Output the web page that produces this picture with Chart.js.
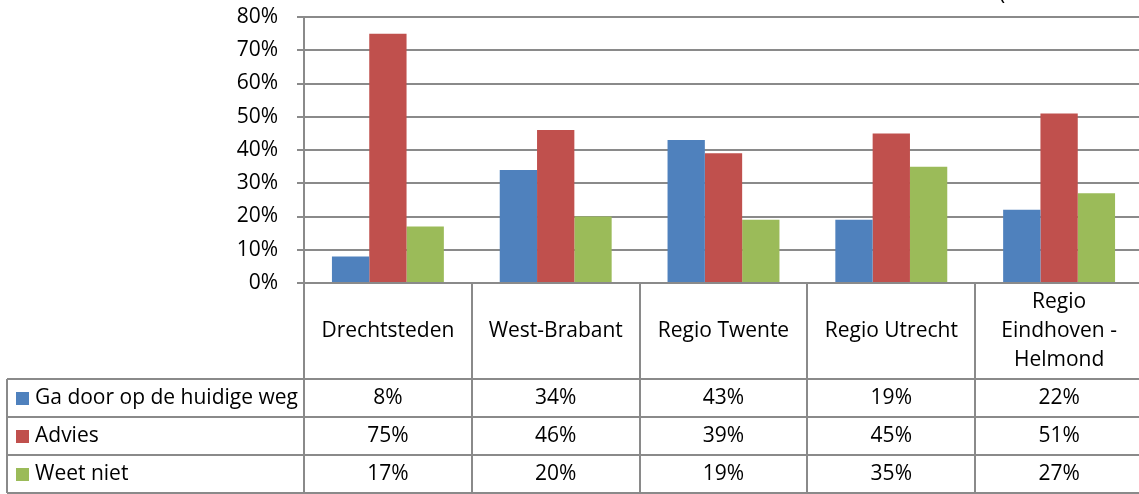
<!DOCTYPE html>
<html>
<head>
<meta charset="utf-8">
<script src="https://cdn.jsdelivr.net/npm/chart.js@4/dist/chart.umd.min.js"></script>
<style>
    html, body { margin: 0; padding: 0; background: #ffffff; overflow: hidden; }
    #wrap { width: 1145px; height: 494px; }
</style>
</head>
<body>
<div id="wrap"><canvas id="regio-chart" width="1145" height="494"></canvas></div>
<script>
const regions = [
    'Drechtsteden',
    'West-Brabant',
    'Regio Twente',
    'Regio Utrecht',
    ['Regio', 'Eindhoven -', 'Helmond']
];

const seriesNames = ['Ga door op de huidige weg', 'Advies', 'Weet niet'];
const seriesColors = ['#4f81bd', '#c0504d', '#9bbb59'];

const gaDoor = [8, 34, 43, 19, 22];
const advies = [75, 46, 39, 45, 51];
const weetNiet = [17, 20, 19, 35, 27];

const yTicks = [0, 10, 20, 30, 40, 50, 60, 70, 80];

const
    gridColor = '#8a8a8a',
    fontFamily = "'Open Sans', 'Noto Sans', sans-serif",
    fontSize = 21,
    headerBottom = 379,
    rowHeight = 38,
    tableLeft = 7;

const seriesValues = [gaDoor, advies, weetNiet];

// data table under the plot, columns lined up with the category scale
const dataTable = {
    id: 'dataTable',
    afterDraw(chart) {
        const { ctx, chartArea, scales: { x } } = chart;
        const colWidth = x.width / regions.length;
        const bottom = headerBottom + rowHeight * 3;

        ctx.save();
        ctx.strokeStyle = gridColor;
        ctx.lineWidth = 2;

        // row lines
        for (let r = 0; r <= 3; r++) {
            const y = Math.min(headerBottom + r * rowHeight, 493);
            ctx.beginPath();
            ctx.moveTo(tableLeft, y);
            ctx.lineTo(chart.width, y);
            ctx.stroke();
        }

        // column lines
        ctx.beginPath();
        ctx.moveTo(tableLeft, headerBottom);
        ctx.lineTo(tableLeft, bottom);
        ctx.stroke();
        for (let i = 0; i <= regions.length; i++) {
            const xPos = Math.round(chartArea.left + i * colWidth);
            ctx.beginPath();
            ctx.moveTo(xPos, chartArea.bottom);
            ctx.lineTo(xPos, bottom);
            ctx.stroke();
        }

        ctx.fillStyle = '#000000';
        ctx.font = fontSize + 'px ' + fontFamily;
        ctx.textAlign = 'center';
        ctx.textBaseline = 'middle';

        // category headers
        const headerMid = (chartArea.bottom + headerBottom) / 2;
        regions.forEach((name, i) => {
            const cx = x.getPixelForValue(i);
            const lines = Array.isArray(name) ? name : [name];
            lines.forEach((line, j) => {
                const cy = headerMid + (j - (lines.length - 1) / 2) * 29;
                ctx.fillText(line, cx, cy);
            });
        });

        // series rows: legend key, name, values
        seriesNames.forEach((name, r) => {
            const cy = headerBottom + r * rowHeight + rowHeight / 2;
            ctx.fillStyle = seriesColors[r];
            ctx.fillRect(16, Math.round(cy - 6.5), 13, 13);
            ctx.fillStyle = '#000000';
            ctx.textAlign = 'left';
            ctx.fillText(name, 35, cy);
            ctx.textAlign = 'center';
            seriesValues[r].forEach((v, i) => {
                ctx.fillText(v + '%', x.getPixelForValue(i), cy);
            });
        });

        // edge of the title that sits above the plot
        ctx.textAlign = 'left';
        ctx.textBaseline = 'alphabetic';
        ctx.fillText('(', 999, 0);

        ctx.restore();
    }
};

const ctx = document.getElementById('regio-chart').getContext('2d');

new Chart(ctx, {
    type: 'bar',
    plugins: [dataTable],
    data: {
        labels: regions,
        datasets: seriesNames.map((name, i) => ({
            label: name,
            data: seriesValues[i],
            backgroundColor: seriesColors[i],
            borderWidth: 0,
            categoryPercentage: 0.667,
            barPercentage: 1
        }))
    },
    options: {
        responsive: false,
        animation: false,
        layout: {
            padding: { left: 0, top: 17, right: 2, bottom: 494 - 283 }
        },
        plugins: {
            legend: { display: false },
            tooltip: { enabled: false }
        },
        scales: {
            x: {
                display: false
            },
            y: {
                min: 0,
                max: 80,
                afterFit(scale) {
                    scale.width = 304;
                    scale.paddingTop = 0;
                    scale.paddingBottom = 0;
                },
                afterBuildTicks(scale) {
                    scale.ticks = yTicks.map(v => ({ value: v }));
                },
                ticks: {
                    padding: 19,
                    color: '#000000',
                    font: { family: fontFamily, size: fontSize },
                    callback: v => v + '%'
                },
                grid: {
                    color: gridColor,
                    lineWidth: 2,
                    tickLength: 7
                },
                border: {
                    color: gridColor,
                    width: 2
                }
            }
        }
    }
});
</script>
</body>
</html>
